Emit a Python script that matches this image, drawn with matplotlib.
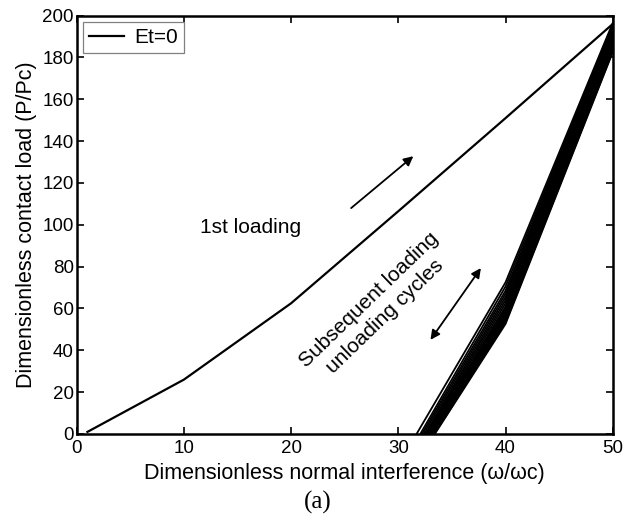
import numpy as np
import matplotlib
matplotlib.use("Agg")
import matplotlib.pyplot as plt

plt.rcParams['font.family'] = ['Liberation Sans', 'DejaVu Sans']

# first loading curve
load_x = [1, 10, 20, 30, 40, 50]
load_p = [1, 26, 62.5, 106.5, 151, 196]

# subsequent loading / unloading cycles: residual interference, load at 40 and at 50
cycle_w = [40, 50]
cycle_x0 = [31.7, 32.05, 32.2, 32.35, 32.5, 32.6, 32.7, 32.8, 32.88, 32.96,
            33.04, 33.1, 33.16, 33.22, 33.27, 33.32, 33.36, 33.4]
cycle_p40 = [72.5, 70.5, 68.5, 67, 65.5, 64, 62.5, 61, 60, 59,
             58, 57, 56.2, 55.5, 54.8, 54, 53.3, 52.6]
cycle_p50 = [196.5, 195.5, 195, 194, 193, 192, 191, 190, 189, 188,
             187, 186, 185.5, 184.5, 184, 183.5, 183, 182.5]

fig = plt.figure(figsize=(6.36, 5.21), dpi=100)
ax = fig.add_axes([0.1206, 0.167, 0.8428, 0.803])

ax.plot(load_x, load_p, color='black', lw=1.6, label='Et=0')
for x0, p40, p50 in zip(cycle_x0, cycle_p40, cycle_p50):
    ax.plot([x0] + cycle_w, [0, p40, p50], color='black', lw=1.3)

ax.set_xlim(0, 50)
ax.set_ylim(0, 200)
ax.set_xticks(np.arange(0, 51, 10))
ax.set_yticks(np.arange(0, 201, 20))
ax.tick_params(direction='in', top=True, right=True, length=5, width=1.2,
               labelsize=13.5)
ax.tick_params(axis='x', pad=4)
ax.tick_params(axis='y', pad=2)
for s in ax.spines.values():
    s.set_linewidth(1.8)

ax.set_xlabel('Dimensionless normal interference (\u03c9/\u03c9c)', fontsize=15.5, labelpad=5)
ax.set_ylabel('Dimensionless contact load (P/Pc)', fontsize=15.5, labelpad=4)

ax.text(16.2, 98.6, '1st loading', fontsize=15, ha='center', va='center')
ax.text(28.0, 60, 'Subsequent loading\nunloading cycles', fontsize=15,
        ha='center', va='center', rotation=44, rotation_mode='anchor',
        multialignment='center', linespacing=1.3)

ax.annotate('', xy=(31.4, 132.8), xytext=(25.6, 108),
            arrowprops=dict(arrowstyle='-|>', color='black', lw=1.3,
                            mutation_scale=14, shrinkA=0, shrinkB=0))
ax.annotate('', xy=(37.7, 79.3), xytext=(33.0, 45.0),
            arrowprops=dict(arrowstyle='<|-|>', color='black', lw=1.3,
                            mutation_scale=14, shrinkA=0, shrinkB=0))

leg = ax.legend(loc='upper left', fontsize=15, handlelength=1.65,
                borderaxespad=0.3, borderpad=0.3, fancybox=False,
                framealpha=1, handletextpad=0.5)
leg.get_frame().set_edgecolor('#808080')
leg.get_frame().set_linewidth(0.9)

fig.text(0.5, 0.036, '(a)', fontsize=18, ha='center', va='center',
         family=['Liberation Serif', 'DejaVu Serif'])

fig.savefig('out.png', dpi=100)
